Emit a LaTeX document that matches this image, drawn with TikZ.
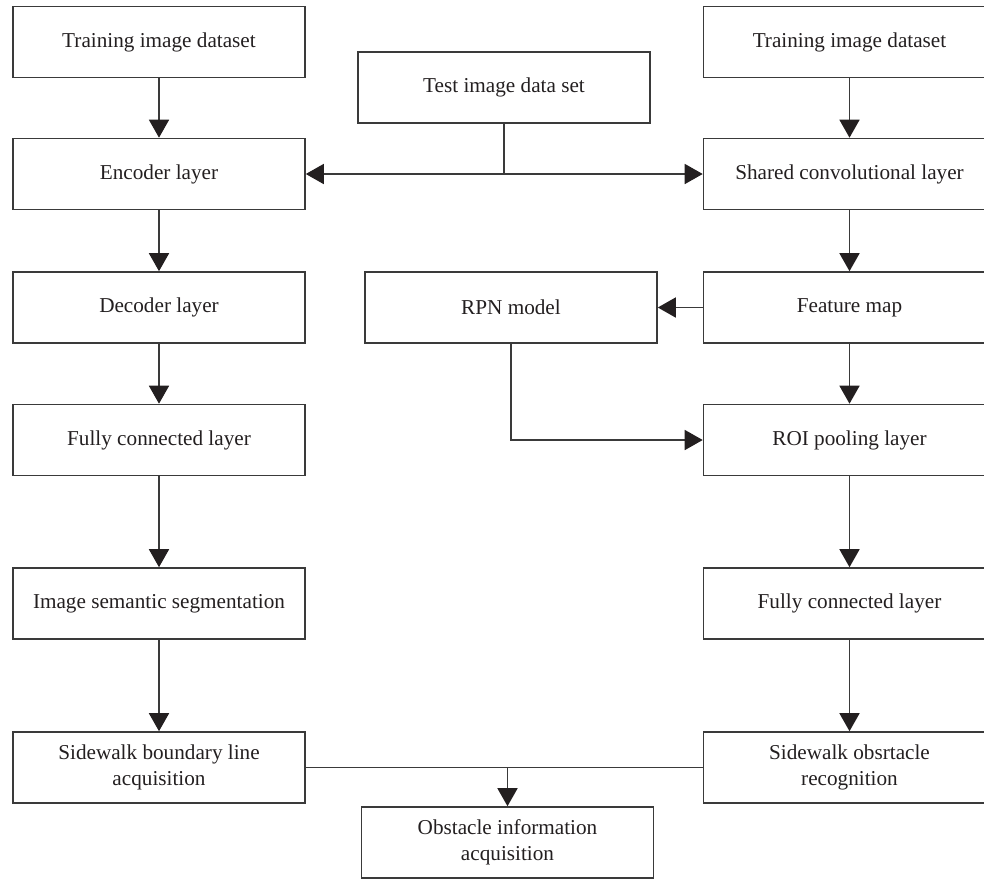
\documentclass[tikz,border=0pt]{standalone}
\usepackage{fontspec}
\setmainfont{Liberation Serif}
\usetikzlibrary{arrows.meta}
\definecolor{edgegray}{HTML}{3A3A3A}
\definecolor{inkblack}{HTML}{231F20}
\begin{document}
\begin{tikzpicture}[
        x=0.5pt, y=-0.5pt,
        box/.style={rectangle, draw=edgegray, line width=0.8pt, minimum width=146pt,
            minimum height=35.5pt, align=center, text=inkblack,
            font=\fontsize{10.6}{13}\selectfont},
        arrow/.style={-{Triangle[length=9pt, width=10pt, color=inkblack]}, edgegray, line width=0.8pt},
        link/.style={edgegray, line width=0.8pt}
    ]
    \useasboundingbox (0,0) rectangle (984,879);
    \clip (0,0) rectangle (984,879);
    % Nodes
    \node[box] (trainL) at (159, 42) {Training image dataset};
    \node[box] (enc) at (159, 174) {Encoder layer};
    \node[box] (dec) at (159, 307.5) {Decoder layer};
    \node[box] (fcL) at (159, 440) {Fully connected layer};
    \node[box] (seg) at (159, 603.5) {Image semantic segmentation};
    \node[box] (bound) at (159, 767.5) {Sidewalk boundary line\\acquisition};
    \node[box] (trainR) at (849.5, 42) {Training image dataset};
    \node[box] (conv) at (849.5, 174) {Shared convolutional layer};
    \node[box] (feat) at (849.5, 307.5) {Feature map};
    \node[box] (roi) at (849.5, 440) {ROI pooling layer};
    \node[box] (fcR) at (849.5, 603.5) {Fully connected layer};
    \node[box] (obst) at (849.5, 767.5) {Sidewalk obsrtacle\\recognition};
    \node[box] (test) at (504, 87.5) {Test image data set};
    \node[box] (rpn) at (511, 307.5) {RPN model};
    \node[box] (info) at (507.5, 842.5) {Obstacle information\\acquisition};
    \coordinate (merge) at (info.north |- bound.east);
    % Edges
    \draw[arrow] (trainL) -- (enc);
    \draw[arrow] (enc) -- (dec);
    \draw[arrow] (dec) -- (fcL);
    \draw[arrow] (fcL) -- (seg);
    \draw[arrow] (seg) -- (bound);
    \draw[arrow] (trainR) -- (conv);
    \draw[arrow] (conv) -- (feat);
    \draw[arrow] (feat) -- (roi);
    \draw[arrow] (roi) -- (fcR);
    \draw[arrow] (fcR) -- (obst);
    \draw[arrow] (test.south) |- (enc.east);
    \draw[arrow] (test.south) |- (conv.west);
    \draw[arrow] (feat.west) -- (rpn.east);
    \draw[arrow] (rpn.south) |- (roi.west);
    \draw[link] (bound.east) -- (obst.west);
    \draw[arrow] (merge) -- (info.north);
\end{tikzpicture}
\end{document}
